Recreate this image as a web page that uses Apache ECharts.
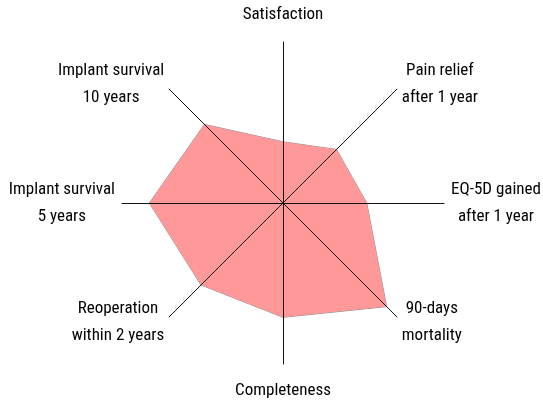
<!DOCTYPE html>
<html>
<head>
<meta charset="utf-8">
<script src="https://cdn.jsdelivr.net/npm/echarts@6/dist/echarts.min.js"></script>
<style>
    html, body { margin: 0; padding: 0; background: #fff; }
    #chart { width: 543px; height: 405px; }
</style>
</head>
<body>
<div id="chart"></div>
<script>
// axes, clockwise from the top
const categories = [
    'Satisfaction',
    'Pain relief\nafter 1 year',
    'EQ-5D gained\nafter 1 year',
    '90-days\nmortality',
    'Completeness',
    'Reoperation\nwithin 2 years',
    'Implant survival\n5 years',
    'Implant survival\n10 years',
]
const scores = [38, 47, 52, 91, 71, 72, 83, 69]
const maxScore = 100

// echarts lays radar axes out counter-clockwise, so flip everything after the first
const order = [0].concat(categories.slice(1).map((_, i) => categories.length - 1 - i))

const chart = echarts.init(document.getElementById('chart'), null, { renderer: 'canvas' })

const labelFont = '"Roboto Condensed", "DejaVu Sans Condensed", sans-serif'

chart.setOption({
    animation: false,
    radar: {
        z: 3,
        center: [283, 203],
        radius: 161,
        startAngle: 90,
        shape: 'polygon',
        indicator: order.map(i => ({ name: categories[i], max: maxScore, min: 0 })),
        splitNumber: 1,
        splitLine: { show: false },
        splitArea: { show: false },
        axisTick: { show: false },
        axisLabel: { show: false },
        axisLine: { lineStyle: { color: '#111', width: 1 } },
        axisNameGap: 7,
        axisName: {
            formatter: (name) => {
                const lines = name.split('\n')
                const style = lines.length > 1 ? 'c' : 's'
                return lines.map(l => '{' + style + '|' + l + '}').join('\n')
            },
            rich: {
                c: { align: 'center', fontSize: 17, lineHeight: 27, color: '#000', fontFamily: labelFont },
                s: { align: 'center', fontSize: 17, lineHeight: 40, color: '#000', fontFamily: labelFont },
            },
        },
    },
    series: [{
        type: 'radar',
        z: 2,
        symbol: 'none',
        data: [{
            value: order.map(i => scores[i]),
            lineStyle: { color: '#8a8a8a', width: 1 },
            areaStyle: { color: '#ff9999', opacity: 1 },
        }],
    }],
})
</script>
</body>
</html>
